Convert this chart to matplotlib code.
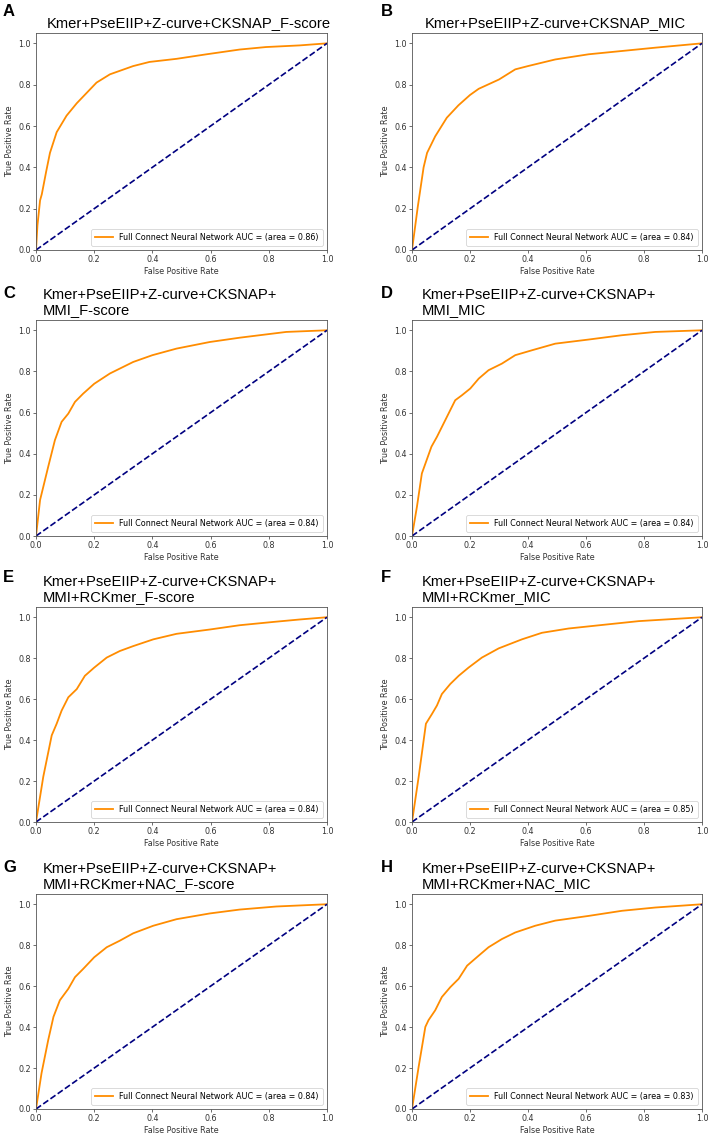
import matplotlib
matplotlib.use('Agg')
import matplotlib.pyplot as plt

# Etiquetas de cada panel
letters = ['A', 'B', 'C', 'D', 'E', 'F', 'G', 'H']
titles = [
    'Kmer+PseEIIP+Z-curve+CKSNAP_F-score',
    'Kmer+PseEIIP+Z-curve+CKSNAP_MIC',
    'Kmer+PseEIIP+Z-curve+CKSNAP+\nMMI_F-score',
    'Kmer+PseEIIP+Z-curve+CKSNAP+\nMMI_MIC',
    'Kmer+PseEIIP+Z-curve+CKSNAP+\nMMI+RCKmer_F-score',
    'Kmer+PseEIIP+Z-curve+CKSNAP+\nMMI+RCKmer_MIC',
    'Kmer+PseEIIP+Z-curve+CKSNAP+\nMMI+RCKmer+NAC_F-score',
    'Kmer+PseEIIP+Z-curve+CKSNAP+\nMMI+RCKmer+NAC_MIC',
]
auc_values = [0.86, 0.84, 0.84, 0.84, 0.84, 0.85, 0.84, 0.83]

# Curvas ROC
fpr_a = [0, 0.005, 0.014, 0.02, 0.035, 0.048, 0.071, 0.105, 0.14, 0.174, 0.208, 0.254, 0.334, 0.39, 0.483, 0.586, 0.70, 0.79, 0.906, 1.0]
tpr_a = [0, 0.12, 0.24, 0.27, 0.38, 0.47, 0.57, 0.65, 0.71, 0.76, 0.81, 0.85, 0.89, 0.91, 0.925, 0.947, 0.97, 0.982, 0.99, 1.0]

fpr_b = [0, 0.02, 0.04, 0.052, 0.08, 0.12, 0.16, 0.2, 0.23, 0.30, 0.356, 0.40, 0.494, 0.609, 0.724, 0.839, 1.0]
tpr_b = [0, 0.21, 0.40, 0.47, 0.55, 0.64, 0.70, 0.75, 0.78, 0.825, 0.874, 0.89, 0.922, 0.947, 0.963, 0.979, 1.0]

fpr_c = [0, 0.014, 0.042, 0.065, 0.088, 0.111, 0.134, 0.162, 0.2, 0.254, 0.334, 0.40, 0.483, 0.597, 0.70, 0.86, 1.0]
tpr_c = [0, 0.175, 0.337, 0.466, 0.555, 0.595, 0.652, 0.692, 0.74, 0.79, 0.846, 0.879, 0.911, 0.943, 0.964, 0.992, 1.0]

fpr_d = [0, 0.017, 0.034, 0.067, 0.086, 0.109, 0.132, 0.149, 0.172, 0.201, 0.23, 0.264, 0.31, 0.356, 0.414, 0.494, 0.609, 0.724, 0.839, 1.0]
tpr_d = [0, 0.142, 0.304, 0.434, 0.482, 0.547, 0.612, 0.66, 0.684, 0.717, 0.765, 0.806, 0.838, 0.879, 0.903, 0.935, 0.955, 0.976, 0.992, 1.0]

fpr_e = [0, 0.025, 0.054, 0.071, 0.088, 0.111, 0.14, 0.168, 0.2, 0.243, 0.288, 0.334, 0.403, 0.483, 0.597, 0.70, 0.815, 0.906, 1.0]
tpr_e = [0, 0.221, 0.423, 0.48, 0.544, 0.609, 0.649, 0.714, 0.754, 0.803, 0.835, 0.859, 0.892, 0.919, 0.94, 0.961, 0.977, 0.989, 1.0]

fpr_f = [0, 0.023, 0.048, 0.069, 0.086, 0.103, 0.132, 0.161, 0.195, 0.241, 0.299, 0.379, 0.448, 0.54, 0.667, 0.782, 1.0]
tpr_f = [0, 0.221, 0.48, 0.528, 0.569, 0.625, 0.674, 0.714, 0.754, 0.803, 0.848, 0.892, 0.924, 0.945, 0.964, 0.981, 1.0]

fpr_g = [0, 0.019, 0.042, 0.06, 0.082, 0.111, 0.134, 0.162, 0.2, 0.243, 0.288, 0.334, 0.403, 0.483, 0.597, 0.70, 0.826, 1.0]
tpr_g = [0, 0.175, 0.337, 0.45, 0.531, 0.587, 0.644, 0.684, 0.741, 0.79, 0.822, 0.858, 0.895, 0.927, 0.955, 0.974, 0.989, 1.0]

fpr_h = [0, 0.023, 0.046, 0.057, 0.08, 0.103, 0.132, 0.161, 0.19, 0.23, 0.264, 0.31, 0.356, 0.425, 0.494, 0.609, 0.724, 0.839, 1.0]
tpr_h = [0, 0.207, 0.401, 0.434, 0.482, 0.547, 0.595, 0.636, 0.70, 0.749, 0.79, 0.83, 0.862, 0.895, 0.92, 0.943, 0.968, 0.984, 1.0]

fprs = [fpr_a, fpr_b, fpr_c, fpr_d, fpr_e, fpr_f, fpr_g, fpr_h]
tprs = [tpr_a, tpr_b, tpr_c, tpr_d, tpr_e, tpr_f, tpr_g, tpr_h]

W, H = 709, 1134
fig = plt.figure(figsize=(W / 100, H / 100), dpi=100)

# Posiciones de los ejes en píxeles (izquierda, arriba, abajo)
col_left = [36, 412]
col_width = [291, 290]
row_top = [33, 320, 607, 894]
row_bottom = [250, 536, 822, 1109]
letter_x = [3, 381]
letter_y = [12, 293, 578, 868]
title_x = [0.038, 0.045, 0.024, 0.034, 0.024, 0.034, 0.024, 0.034]

small = 5.8
for i in range(8):
    r, c = i // 2, i % 2
    ax = fig.add_axes([col_left[c] / W, 1 - row_bottom[r] / H,
                       col_width[c] / W, (row_bottom[r] - row_top[r]) / H])
    ax.plot(fprs[i], tprs[i], color='darkorange', lw=1.3,
            label=f'Full Connect Neural Network AUC = (area = {auc_values[i]:.2f})')
    ax.plot([0, 1], [0, 1], color='navy', lw=1.2, linestyle='--')
    ax.set_xlim([0.0, 1.0])
    ax.set_ylim([0.0, 1.05])
    ax.set_xlabel('False Positive Rate', fontsize=small, color='#333333', labelpad=2)
    ax.set_ylabel('True Positive Rate', fontsize=small, color='#333333', labelpad=3)
    ax.tick_params(labelsize=small, length=2, width=0.5, pad=1.5, colors='#333333')
    for s in ax.spines.values():
        s.set_linewidth(0.6)
        s.set_color('#555555')
    leg = ax.legend(loc='lower right', fontsize=small, handlelength=2.2,
                    borderpad=0.5, framealpha=1)
    leg.get_frame().set_linewidth(0.5)
    ax.text(title_x[i], 1.012, titles[i], transform=ax.transAxes, ha='left', va='bottom',
            fontsize=10.6, family='Liberation Sans', linespacing=1.1)
    fig.text(letter_x[c] / W, 1 - letter_y[r] / H, letters[i], ha='left', va='center',
             fontsize=12, fontweight='bold', family='Liberation Sans')

plt.savefig('out.png', dpi=100)
